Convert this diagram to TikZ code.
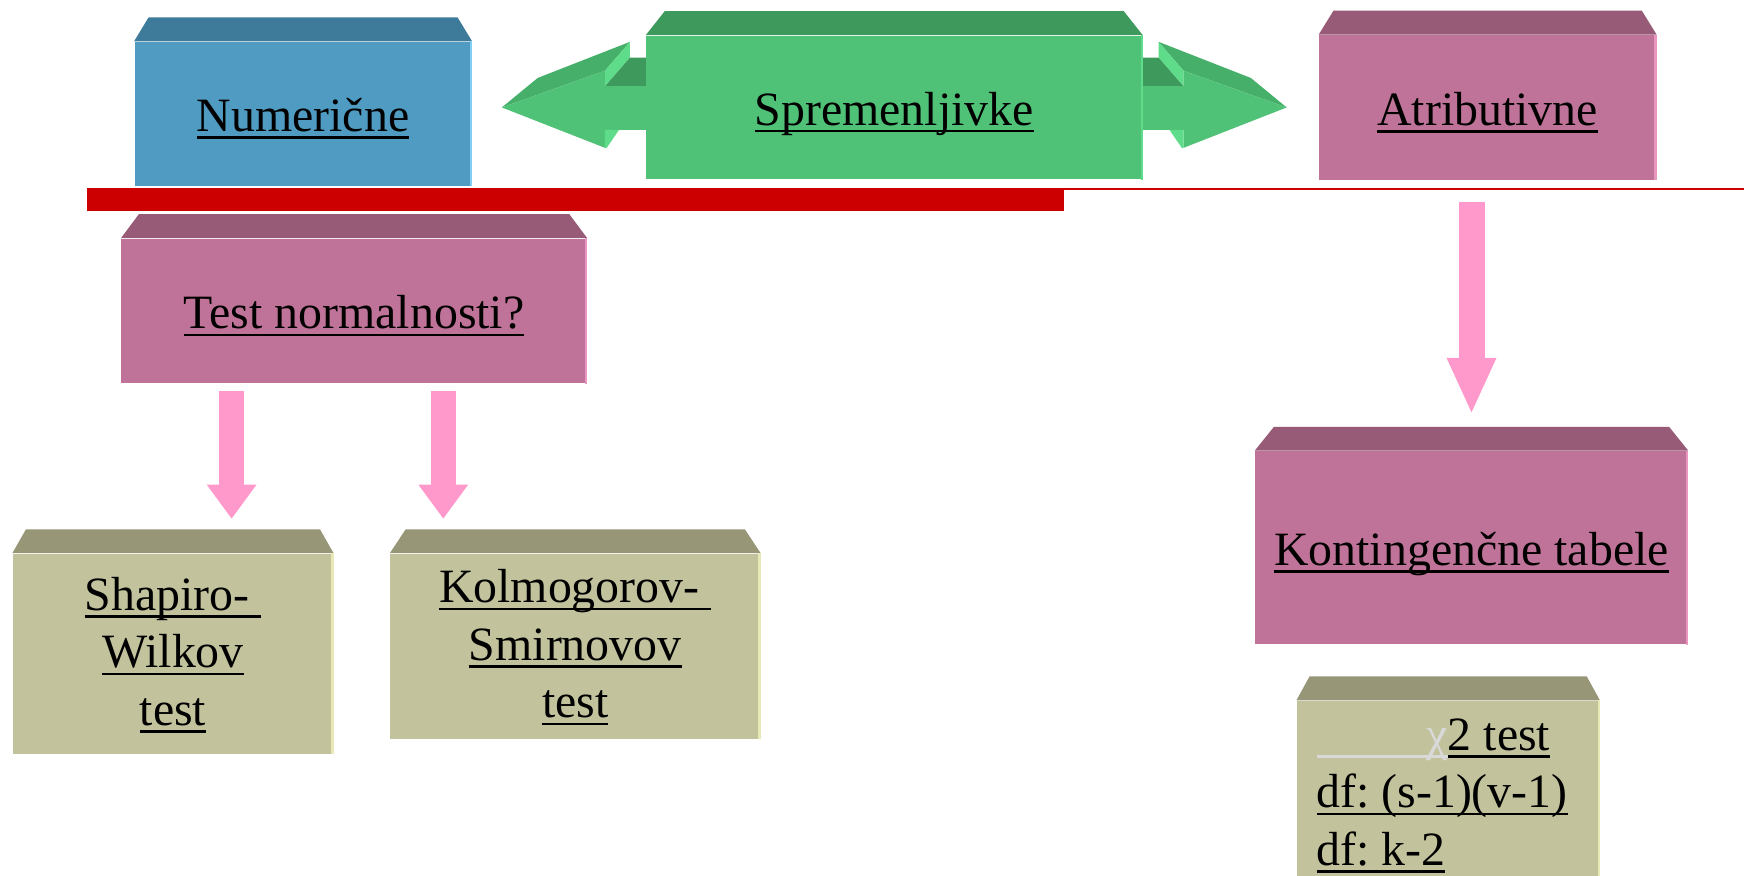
\documentclass[tikz,border=0pt]{standalone}
\usepackage{fontspec}
\setmainfont{Liberation Serif}
\usetikzlibrary{arrows.meta}
\frenchspacing

% palette
\definecolor{blueF}{HTML}{4F9BC2}
\definecolor{blueT}{HTML}{3E7A99}
\definecolor{blueE}{HTML}{80CFF2}
\definecolor{greenF}{HTML}{4FC277}
\definecolor{greenT}{HTML}{3D995C}
\definecolor{greenL}{HTML}{5FDC8A}
\definecolor{greenB}{HTML}{46B06B}
\definecolor{pinkF}{HTML}{C07398}
\definecolor{pinkT}{HTML}{985B77}
\definecolor{pinkE}{HTML}{E996C0}
\definecolor{oliveF}{HTML}{C2C39D}
\definecolor{oliveT}{HTML}{979677}
\definecolor{oliveE}{HTML}{E9E9B8}
\definecolor{redbar}{HTML}{CC0000}
\definecolor{arrowpink}{HTML}{FF99CC}
\definecolor{chigray}{HTML}{D9D9D9}

% underlined text with a fixed underline position
\newsavebox\ulbox
\newcommand\ulx[1]{\sbox\ulbox{#1}\rlap{\rule[-3.3pt]{\wd\ulbox}{1.1pt}}\usebox\ulbox}
\newcommand\boxfont{\fontsize{21.5}{25.8}\selectfont\frenchspacing}

% slanted top face of a block: node, inset, colour
\newcommand\topface[3]{%
  \fill[#3] (#1.north west) -- ([shift={(#2,-21.5)}]#1.north west)
    -- ([shift={(-#2,-21.5)}]#1.north east) -- (#1.north east) -- cycle;}
% light rim along the right edge of a block: node, colour
\newcommand\rim[2]{%
  \draw[#2, line width=1pt] ([xshift=-0.5pt]#1.north east) -- ([xshift=-0.5pt]#1.south east);}

% one bevelled head of the double arrow (left side; mirrored for the right)
\newcommand\sidearrow{%
  \fill[greenB] (451.2,96.6) -- (483.4,70.1) -- (566.4,37.6) -- (543.9,63.6) -- cycle;
  \fill[greenL] (543.9,63.6) -- (566.4,37.6) -- (566.4,51.8) -- (543.9,77.7) -- cycle;
  \fill[greenT] (543.9,77.7) -- (566.4,51.8) -- (582,51.8) -- (582,77.7) -- cycle;
  \fill[greenF] (451.2,96.6) -- (543.9,63.6) -- (543.9,132.9) -- cycle;
  \fill[greenF] (543.4,77.7) rectangle (582,116.7);
  \fill[greenL] (543.9,116.7) -- (556.6,116.7) -- (545.5,132.9) -- (543.9,132.9) -- cycle;}

\begin{document}
\begin{tikzpicture}[x=0.5pt,y=-0.5pt,
  block/.style={inner sep=0pt, font=\boxfont, text height=16pt, text depth=0pt},
  stack/.style={inner sep=0pt, font=\boxfont, align=center},
  flow/.style={draw=arrowpink, line width=11pt,
    -{Triangle[width=22.5pt,length=#1,line width=0pt]}},
  flow/.default=15.3pt]
\clip (0,0) rectangle (1568,787);
\fill[white] (0,0) rectangle (1568,787);

% double arrow behind the centre block
\sidearrow
\begin{scope}[shift={(1608,0)},xscale=-1]
  \sidearrow
\end{scope}

% top row
\node[block, minimum width=151.5pt, minimum height=64.75pt, fill=blueF]
  (num) at (272.5,102.25) {\ulx{Numerične}};
\topface{num}{13}{blueT}
\rim{num}{blueE}

\node[block, minimum width=223pt, minimum height=64.5pt, fill=greenF]
  (spr) at (804,96.5) {\ulx{Spremenljivke}};
\topface{spr}{17}{greenT}
\rim{spr}{greenL}

\node[block, minimum width=151.5pt, minimum height=65.15pt, fill=pinkF]
  (atr) at (1337.5,96.65) {\ulx{Atributivne}};
\topface{atr}{13.3}{pinkT}
\rim{atr}{pinkE}

% red rule
\fill[redbar] (78,169) rectangle (957,190);
\fill[redbar] (957,169) rectangle (1568,170.8);

% numeric branch
\node[block, minimum width=209.15pt, minimum height=65pt, fill=pinkF]
  (tst) at (318.35,279.5) {\ulx{Test normalnosti?}};
\topface{tst}{16}{pinkT}
\rim{tst}{pinkE}

\node[stack, minimum width=144pt, minimum height=89.9pt, fill=oliveF]
  (sha) at (155.5,587.7)
  {\rule{0pt}{16pt}\ulx{Shapiro-\ }\\\ulx{Wilkov}\\\ulx{test}};
\topface{sha}{12.2}{oliveT}
\rim{sha}{oliveE}

\node[stack, minimum width=166.3pt, minimum height=83.2pt, fill=oliveF]
  (kol) at (517.2,581)
  {\rule{0pt}{16pt}\ulx{Kolmogorov-\ }\\\ulx{Smirnovov}\\\ulx{test}};
\topface{kol}{14.2}{oliveT}
\rim{kol}{oliveE}

% attribute branch
\node[block, minimum width=194.5pt, minimum height=86.75pt, fill=pinkF]
  (kon) at (1323,492.35) {\ulx{Kontingenčne tabele}};
\topface{kon}{17.3}{pinkT}
\rim{kon}{pinkE}

\node[inner sep=0pt, minimum width=136pt, minimum height=100pt, fill=oliveF]
  (chi) at (1302,730) {};
\topface{chi}{11.8}{oliveT}
\rim{chi}{oliveE}
\node[inner sep=0pt, font=\boxfont, align=left, anchor=north west]
  (chitext) at (1183.3,642.3)
  {\rule{0pt}{16pt}\textcolor{chigray}{\ulx{\hspace*{49.5pt}χ}}\ulx{2 test}\\
   \ulx{df: (s-1)(v-1)}\\\ulx{df: k-2}};

% connectors
\draw[flow, shorten <=3.1pt, shorten >=15.6pt]
  ([xshift=-55.05pt]tst.south) -- ([xshift=-55.05pt]tst.south |- sha.north);
\draw[flow, shorten <=3.1pt, shorten >=15.6pt]
  ([xshift=40.1pt]tst.south) -- ([xshift=40.1pt]tst.south |- kol.north);
\draw[flow=24.5pt, line width=11.7pt, shorten <=9.9pt, shorten >=17.25pt]
  (kon.north |- atr.south) -- (kon.north);
\end{tikzpicture}
\end{document}
